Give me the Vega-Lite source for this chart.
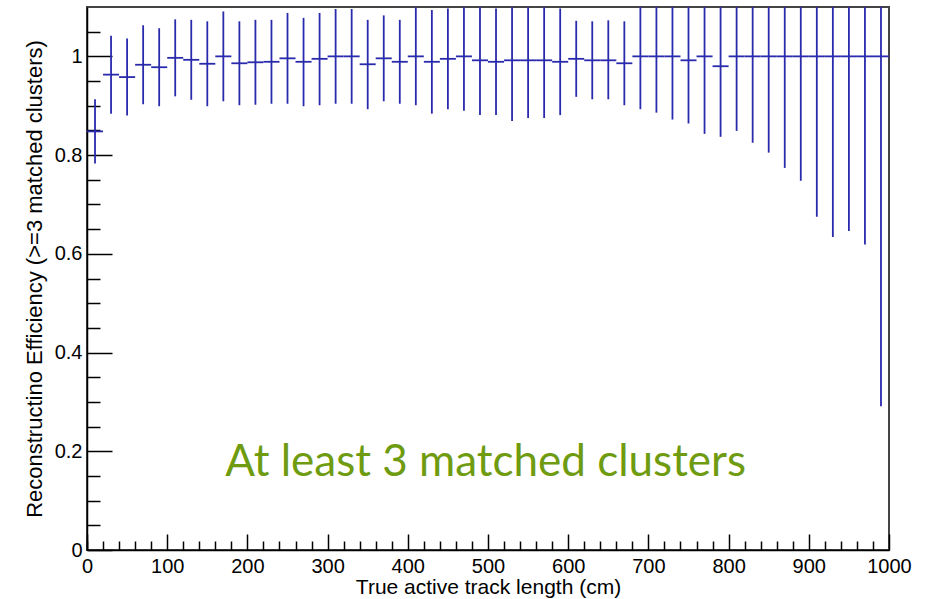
{
  "$schema": "https://vega.github.io/schema/vega-lite/v6.json",
  "width": 802,
  "height": 543,
  "autosize": "none",
  "padding": {"left": 87, "top": 7, "right": 40, "bottom": 49},
  "background": "white",
  "config": {
    "view": {"stroke": "#444444", "strokeWidth": 2},
    "axis": {
      "labelFont": "Liberation Sans",
      "titleFont": "Liberation Sans",
      "labelFontSize": 20,
      "titleFontSize": 21,
      "labelColor": "#000000",
      "titleColor": "#000000",
      "titleFontWeight": "normal",
      "domainColor": "#000000",
      "domainWidth": 1.5,
      "tickColor": "#000000",
      "tickWidth": 1.5,
      "grid": false,
      "labelFlush": false,
      "labelOverlap": false
    }
  },
  "datasets": {
    "bins": [
      {"x0": 0, "x1": 20, "xc": 10, "eff": 0.848, "lo": 0.783, "hi": 0.913},
      {"x0": 20, "x1": 40, "xc": 30, "eff": 0.963, "lo": 0.884, "hi": 1.042},
      {"x0": 40, "x1": 60, "xc": 50, "eff": 0.958, "lo": 0.880, "hi": 1.036},
      {"x0": 60, "x1": 80, "xc": 70, "eff": 0.983, "lo": 0.903, "hi": 1.063},
      {"x0": 80, "x1": 100, "xc": 90, "eff": 0.978, "lo": 0.899, "hi": 1.057},
      {"x0": 100, "x1": 120, "xc": 110, "eff": 0.997, "lo": 0.919, "hi": 1.075},
      {"x0": 120, "x1": 140, "xc": 130, "eff": 0.993, "lo": 0.912, "hi": 1.074},
      {"x0": 140, "x1": 160, "xc": 150, "eff": 0.985, "lo": 0.899, "hi": 1.071},
      {"x0": 160, "x1": 180, "xc": 170, "eff": 1.0, "lo": 0.909, "hi": 1.091},
      {"x0": 180, "x1": 200, "xc": 190, "eff": 0.986, "lo": 0.901, "hi": 1.071},
      {"x0": 200, "x1": 220, "xc": 210, "eff": 0.988, "lo": 0.902, "hi": 1.074},
      {"x0": 220, "x1": 240, "xc": 230, "eff": 0.989, "lo": 0.904, "hi": 1.074},
      {"x0": 240, "x1": 260, "xc": 250, "eff": 0.996, "lo": 0.904, "hi": 1.088},
      {"x0": 260, "x1": 280, "xc": 270, "eff": 0.989, "lo": 0.899, "hi": 1.078},
      {"x0": 280, "x1": 300, "xc": 290, "eff": 0.995, "lo": 0.901, "hi": 1.088},
      {"x0": 300, "x1": 320, "xc": 310, "eff": 1.0, "lo": 0.904, "hi": 1.096},
      {"x0": 320, "x1": 340, "xc": 330, "eff": 1.0, "lo": 0.904, "hi": 1.096},
      {"x0": 340, "x1": 360, "xc": 350, "eff": 0.984, "lo": 0.893, "hi": 1.074},
      {"x0": 360, "x1": 380, "xc": 370, "eff": 0.996, "lo": 0.909, "hi": 1.083},
      {"x0": 380, "x1": 400, "xc": 390, "eff": 0.989, "lo": 0.904, "hi": 1.074},
      {"x0": 400, "x1": 420, "xc": 410, "eff": 1.0, "lo": 0.901, "hi": 1.099},
      {"x0": 420, "x1": 440, "xc": 430, "eff": 0.989, "lo": 0.884, "hi": 1.094},
      {"x0": 440, "x1": 460, "xc": 450, "eff": 0.995, "lo": 0.893, "hi": 1.097},
      {"x0": 460, "x1": 480, "xc": 470, "eff": 1.0, "lo": 0.890, "hi": 1.110},
      {"x0": 480, "x1": 500, "xc": 490, "eff": 0.992, "lo": 0.881, "hi": 1.103},
      {"x0": 500, "x1": 520, "xc": 510, "eff": 0.989, "lo": 0.881, "hi": 1.097},
      {"x0": 520, "x1": 540, "xc": 530, "eff": 0.992, "lo": 0.869, "hi": 1.115},
      {"x0": 540, "x1": 560, "xc": 550, "eff": 0.992, "lo": 0.875, "hi": 1.109},
      {"x0": 560, "x1": 580, "xc": 570, "eff": 0.992, "lo": 0.875, "hi": 1.109},
      {"x0": 580, "x1": 600, "xc": 590, "eff": 0.989, "lo": 0.881, "hi": 1.097},
      {"x0": 600, "x1": 620, "xc": 610, "eff": 0.995, "lo": 0.918, "hi": 1.072},
      {"x0": 620, "x1": 640, "xc": 630, "eff": 0.992, "lo": 0.913, "hi": 1.071},
      {"x0": 640, "x1": 660, "xc": 650, "eff": 0.992, "lo": 0.913, "hi": 1.073},
      {"x0": 660, "x1": 680, "xc": 670, "eff": 0.986, "lo": 0.901, "hi": 1.071},
      {"x0": 680, "x1": 700, "xc": 690, "eff": 1.0, "lo": 0.893, "hi": 1.107},
      {"x0": 700, "x1": 720, "xc": 710, "eff": 1.0, "lo": 0.886, "hi": 1.114},
      {"x0": 720, "x1": 740, "xc": 730, "eff": 1.0, "lo": 0.872, "hi": 1.128},
      {"x0": 740, "x1": 760, "xc": 750, "eff": 0.992, "lo": 0.864, "hi": 1.120},
      {"x0": 760, "x1": 780, "xc": 770, "eff": 1.0, "lo": 0.843, "hi": 1.157},
      {"x0": 780, "x1": 800, "xc": 790, "eff": 0.980, "lo": 0.837, "hi": 1.123},
      {"x0": 800, "x1": 820, "xc": 810, "eff": 1.0, "lo": 0.849, "hi": 1.151},
      {"x0": 820, "x1": 840, "xc": 830, "eff": 1.0, "lo": 0.825, "hi": 1.175},
      {"x0": 840, "x1": 860, "xc": 850, "eff": 1.0, "lo": 0.805, "hi": 1.195},
      {"x0": 860, "x1": 880, "xc": 870, "eff": 1.0, "lo": 0.774, "hi": 1.226},
      {"x0": 880, "x1": 900, "xc": 890, "eff": 1.0, "lo": 0.748, "hi": 1.252},
      {"x0": 900, "x1": 920, "xc": 910, "eff": 1.0, "lo": 0.675, "hi": 1.325},
      {"x0": 920, "x1": 940, "xc": 930, "eff": 1.0, "lo": 0.634, "hi": 1.366},
      {"x0": 940, "x1": 960, "xc": 950, "eff": 1.0, "lo": 0.646, "hi": 1.354},
      {"x0": 960, "x1": 980, "xc": 970, "eff": 1.0, "lo": 0.619, "hi": 1.381},
      {"x0": 980, "x1": 1000, "xc": 990, "eff": 1.0, "lo": 0.291, "hi": 1.709}
    ],
    "note": [
      {"label": "At least 3 matched clusters", "x": 497, "y": 0.15}
    ]
  },
  "layer": [
    {
      "data": {"name": "bins"},
      "mark": {"type": "rule", "color": "#2a2aad", "strokeWidth": 1.8, "clip": true},
      "encoding": {
        "x": {
          "field": "xc", "type": "quantitative",
          "scale": {"domain": [0, 1000], "nice": false, "zero": false},
          "axis": {
            "orient": "bottom",
            "title": "True active track length (cm)",
            "values": [0, 100, 200, 300, 400, 500, 600, 700, 800, 900, 1000],
            "format": "d",
            "tickSize": -16,
            "labelPadding": 22,
            "titlePadding": 0
          }
        },
        "y": {
          "field": "lo", "type": "quantitative",
          "scale": {"domain": [0, 1.1], "nice": false, "zero": false},
          "axis": {
            "orient": "left",
            "title": "Reconstructino Efficiency (>=3 matched clusters)",
            "titleFontSize": 22,
            "values": [0, 0.2, 0.4, 0.6, 0.8, 1],
            "format": "~g",
            "tickSize": -25,
            "labelPadding": 30,
            "titlePadding": 8
          }
        },
        "y2": {"field": "hi"}
      }
    },
    {
      "data": {"name": "bins"},
      "mark": {"type": "rule", "color": "#2a2aad", "strokeWidth": 1.8, "clip": true},
      "encoding": {
        "x": {
          "field": "x0", "type": "quantitative",
          "axis": {
            "orient": "bottom",
            "title": null,
            "labels": false,
            "domain": false,
            "values": [0, 20, 40, 60, 80, 120, 140, 160, 180, 220, 240, 260, 280, 320, 340, 360, 380, 420, 440, 460, 480, 520, 540, 560, 580, 620, 640, 660, 680, 720, 740, 760, 780, 820, 840, 860, 880, 920, 940, 960, 980],
            "tickSize": -9
          }
        },
        "x2": {"field": "x1"},
        "y": {
          "field": "eff", "type": "quantitative",
          "axis": {
            "orient": "left",
            "title": null,
            "labels": false,
            "domain": false,
            "values": [0.05, 0.1, 0.15, 0.25, 0.3, 0.35, 0.45, 0.5, 0.55, 0.65, 0.7, 0.75, 0.85, 0.9, 0.95, 1.05],
            "tickSize": -13
          }
        }
      }
    },
    {
      "data": {"name": "note"},
      "mark": {"type": "text", "font": "Lato", "fontSize": 44, "color": "#6f9b10", "align": "center", "baseline": "alphabetic"},
      "encoding": {
        "x": {"field": "x", "type": "quantitative", "axis": null},
        "y": {"field": "y", "type": "quantitative", "axis": null},
        "text": {"field": "label"}
      }
    }
  ],
  "resolve": {"axis": {"x": "independent", "y": "independent"}}
}
